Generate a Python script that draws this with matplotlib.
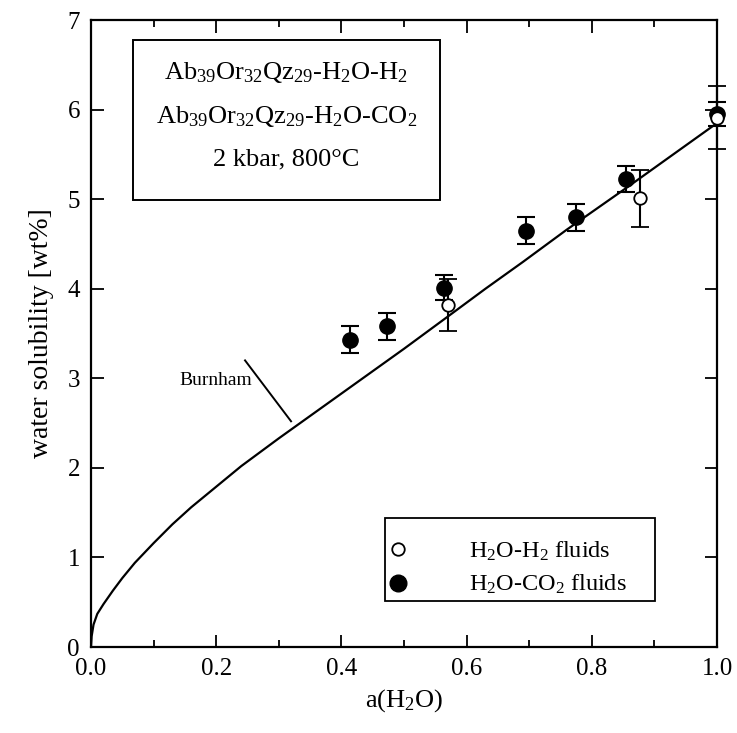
import numpy as np
import matplotlib
matplotlib.use("Agg")
import matplotlib.pyplot as plt
from matplotlib.patches import Rectangle
from matplotlib.lines import Line2D
from matplotlib.ticker import MultipleLocator

plt.rcParams["font.family"] = ["Liberation Serif", "DejaVu Serif"]
plt.rcParams["mathtext.fontset"] = "custom"
plt.rcParams["mathtext.rm"] = "Liberation Serif"
plt.rcParams["mathtext.it"] = "Liberation Serif:italic"

# Burnham model curve
burn_x = [0.0, 0.001, 0.004, 0.01, 0.02, 0.035, 0.05, 0.07, 0.1, 0.13, 0.16,
          0.2, 0.24, 0.3, 0.36, 0.43, 0.5, 0.57, 0.63, 0.69, 0.76, 0.86,
          0.93, 1.0]
burn_y = [0.0, 0.12, 0.25, 0.37, 0.48, 0.63, 0.77, 0.94, 1.16, 1.37, 1.56,
          1.79, 2.02, 2.33, 2.63, 2.98, 3.33, 3.69, 4.0, 4.3, 4.66, 5.15,
          5.5, 5.85]

# H2O-CO2 fluids (filled)
co2_a = [0.413, 0.473, 0.563, 0.694, 0.774, 0.854, 1.0]
co2_w = [3.43, 3.58, 4.01, 4.65, 4.80, 5.23, 5.95]
co2_err = [0.15, 0.15, 0.14, 0.15, 0.15, 0.145, 0.13]

# H2O-H2 fluids (open)
h2_a = [0.570, 0.877, 1.0]
h2_w = [3.82, 5.01, 5.91]
h2_err = [0.29, 0.32, 0.35]

fig = plt.figure(figsize=(7.37, 7.33), dpi=100)
ax = fig.add_axes([0.1235, 0.1173, 0.8495, 0.8554])

ax.plot(burn_x, burn_y, color="black", lw=1.6)

eb1 = ax.errorbar(co2_a, co2_w, yerr=co2_err, fmt="o", color="black", ms=11,
                  mfc="black", mec="black", ecolor="black", elinewidth=1.5,
                  capsize=6.5, capthick=1.5, zorder=3)
eb2 = ax.errorbar(h2_a, h2_w, yerr=h2_err, fmt="o", color="black", ms=9,
                  mfc="white", mec="black", mew=1.3, ecolor="black",
                  elinewidth=1.5, capsize=6.5, capthick=1.5, zorder=4)
for eb in (eb1, eb2):
    for art in eb.lines[0:1] + eb.lines[1] + eb.lines[2]:
        if art is not None:
            art.set_clip_on(False)

# Burnham label with leader line
ax.text(0.2, 2.98, "Burnham", fontsize=14, ha="center", va="center")
ax.plot([0.246, 0.3195], [3.20, 2.52], color="black", lw=1.4)

# info box
ax.add_patch(Rectangle((0.067, 0.713), 0.49, 0.255, transform=ax.transAxes,
                       fill=False, edgecolor="black", lw=1.4, zorder=5))
ax.text(0.312, 0.917, r"Ab$_{39}$Or$_{32}$Qz$_{29}$-H$_2$O-H$_2$",
        transform=ax.transAxes, ha="center", va="center", fontsize=19)
ax.text(0.312, 0.846, r"Ab$_{39}$Or$_{32}$Qz$_{29}$-H$_2$O-CO$_2$",
        transform=ax.transAxes, ha="center", va="center", fontsize=19)
ax.text(0.312, 0.777, "2 kbar, 800°C",
        transform=ax.transAxes, ha="center", va="center", fontsize=19)

ax.set_xlim(0, 1.0)
ax.set_ylim(0, 7)
ax.xaxis.set_major_locator(MultipleLocator(0.2))
ax.xaxis.set_minor_locator(MultipleLocator(0.1))
ax.yaxis.set_major_locator(MultipleLocator(1))
ax.xaxis.set_major_formatter(plt.FormatStrFormatter("%.1f"))
ax.tick_params(which="both", direction="in", top=True, right=True,
               labelsize=18, width=1.3)
ax.tick_params(which="major", length=9, pad=8)
ax.tick_params(which="minor", length=5)
for s in ax.spines.values():
    s.set_linewidth(1.6)

ax.set_xlabel(r"a(H$_2$O)", fontsize=19, labelpad=5)
ax.set_ylabel("water solubility [wt%]", fontsize=20, labelpad=10)

# legend: entries without frame, box drawn separately
handles = [
    Line2D([], [], ls="none", marker="o", ms=9, mfc="white", mec="black",
           mew=1.3),
    Line2D([], [], ls="none", marker="o", ms=12, mfc="black", mec="black"),
]
labels = [r"H$_2$O-H$_2$ fluids", r"H$_2$O-CO$_2$ fluids"]
ax.legend(handles, labels, loc="center left", bbox_to_anchor=(0.474, 0.126),
          fontsize=17.5, frameon=False, handletextpad=2.55, borderpad=0,
          labelspacing=0.42, handlelength=0.8, borderaxespad=0)
ax.add_patch(Rectangle((0.470, 0.073), 0.431, 0.133, transform=ax.transAxes,
                       fill=False, edgecolor="black", lw=1.3, zorder=5))

fig.savefig("out.png", dpi=100)
